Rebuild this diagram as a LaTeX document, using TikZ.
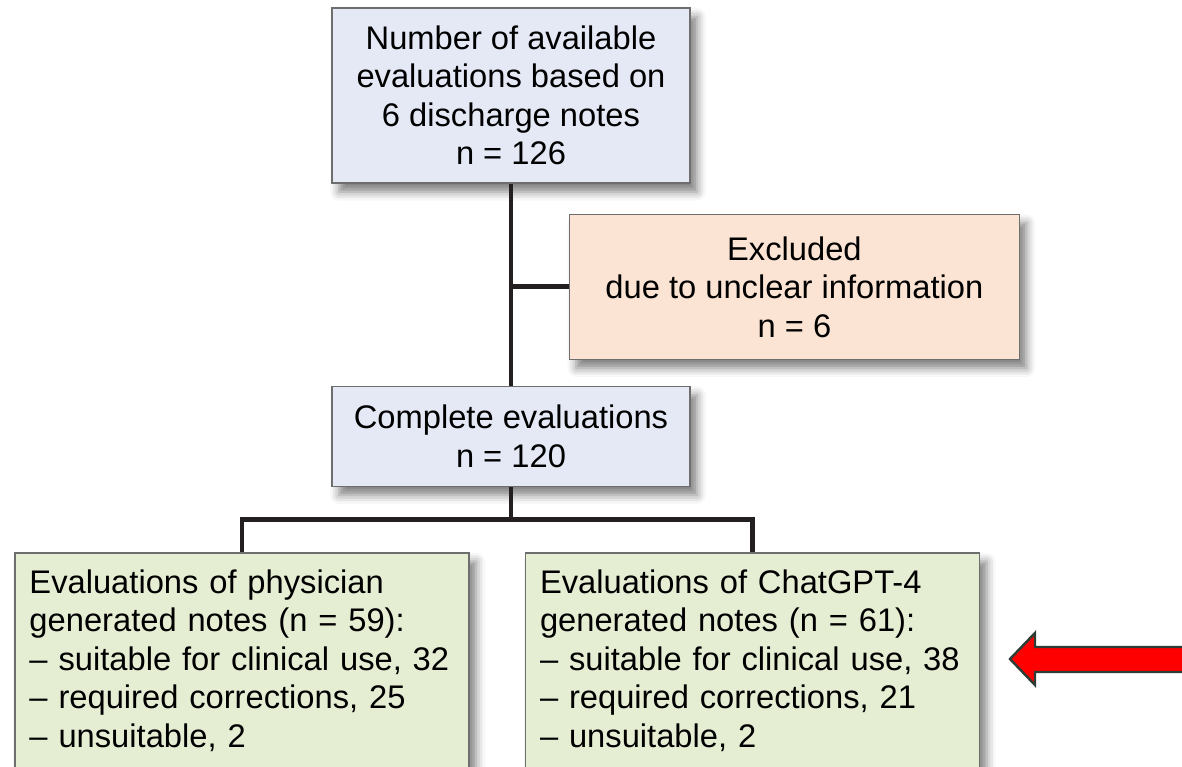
\documentclass[tikz,border=0pt]{standalone}
\usepackage{fontspec}
\setmainfont{Liberation Sans}
\usetikzlibrary{positioning,calc,shadows.blur}

\definecolor{boxblue}{HTML}{E4E9F5}
\definecolor{boxpeach}{HTML}{FCE4D4}
\definecolor{boxgreen}{HTML}{E5EDD3}
\definecolor{boxline}{HTML}{6E6E6E}
\definecolor{linkline}{HTML}{231F20}
\definecolor{arrowred}{HTML}{FF0000}
\definecolor{arrowline}{HTML}{2F3B35}

\tikzset{
  box/.style={draw=boxline, line width=0.8pt, align=center, inner sep=0pt,
    font=\fontsize{18.6}{21.9}\selectfont,
    blur shadow={shadow xshift=4pt, shadow yshift=-5pt, shadow blur radius=5pt, shadow opacity=50}},
  bluebox/.style={box, fill=boxblue},
  peachbox/.style={box, fill=boxpeach},
  greenbox/.style={box, fill=boxgreen, align=left, text width=8.5cm,
    minimum width=9.08cm, minimum height=4.3cm},
  link/.style={draw=linkline, line width=2.8pt}
}

\begin{document}
\begin{tikzpicture}[node distance=1.3cm]
\useasboundingbox (0,0) rectangle (23.64,-15.34);

\node[bluebox, minimum width=7.16cm, minimum height=3.5cm] (avail) at (10.22,-1.91)
  {Number of available\\evaluations based on\\6 discharge notes\\n = 126};
\node[peachbox, minimum width=9cm, minimum height=2.9cm, anchor=north west] (excl)
  [below right=0.6cm and -2.44cm of avail]
  {Excluded\\due to unclear information\\n = 6};
\node[bluebox, minimum width=7.16cm, minimum height=2cm] (complete) [below=4.04cm of avail]
  {Complete evaluations\\n = 120};
\node[greenbox] (phys) [below=of complete, xshift=-5.38cm]
  {Evaluations of physician\\generated notes (n = 59):\\– suitable for clinical use, 32\\– required corrections, 25\\– unsuitable, 2};
\node[greenbox] (gpt) [below=of complete, xshift=4.83cm]
  {Evaluations of ChatGPT-4\\generated notes (n = 61):\\– suitable for clinical use, 38\\– required corrections, 21\\– unsuitable, 2};

\coordinate (split) at ($(complete.south)!0.5!(complete.south |- phys.north)$);

\draw[link] (avail.south) -- (complete.north);
\draw[link] (excl.west) -- (excl.west -| avail.south);
\draw[link] (complete.south) -- (complete.south |- split);
\draw[link] (phys.north) |- (split) -| (gpt.north);

\fill[arrowred, draw=arrowline, line width=1.4pt, line join=miter]
  (23.8,-12.94) -- (20.7,-12.94) -- (20.7,-12.66) -- (20.2,-13.18)
  -- (20.7,-13.7) -- (20.7,-13.44) -- (23.8,-13.44);
\end{tikzpicture}
\end{document}
